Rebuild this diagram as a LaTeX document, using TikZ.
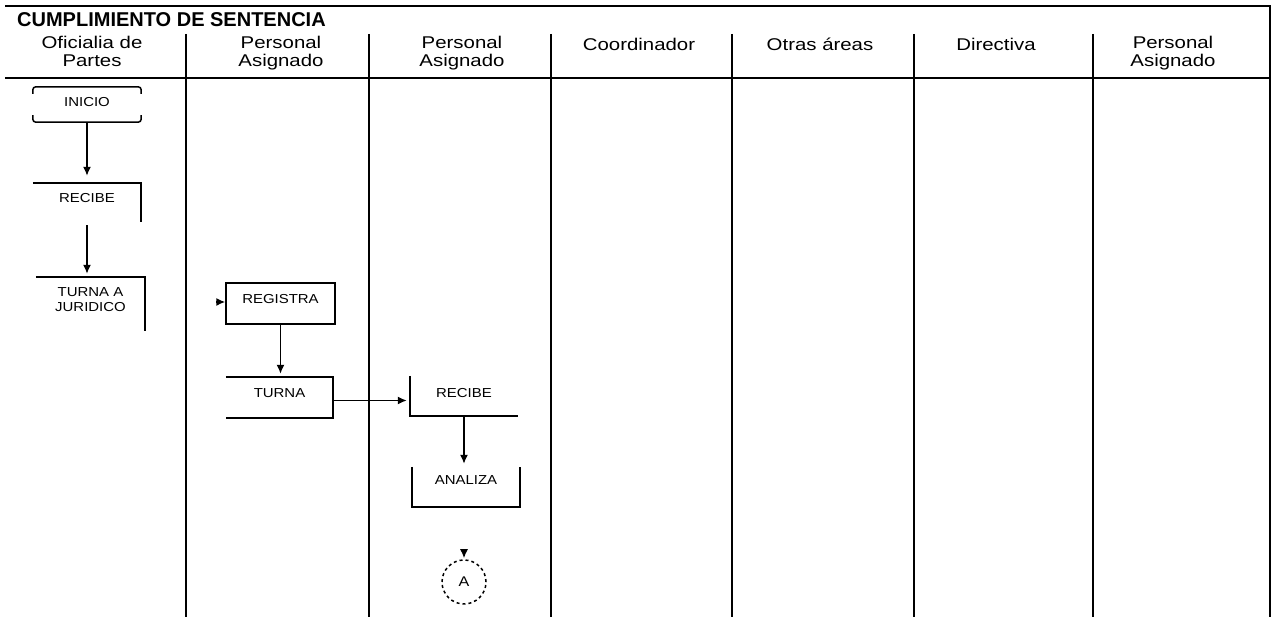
\documentclass[tikz,border=0pt]{standalone}
\usepackage{fontspec}
\setmainfont{Liberation Sans}
\newfontfamily\cabecera{Liberation Sans}[FakeStretch=1.2]
\newfontfamily\caja{Liberation Sans}[FakeStretch=1.15]
\usepackage{tikz}
\usetikzlibrary{arrows,arrows.meta}

\tikzset{
  lane/.style={font=\cabecera\fontsize{17}{18}\selectfont, align=center, anchor=base, inner sep=0pt},
  paso/.style={font=\caja\fontsize{13}{15}\selectfont, minimum width=108pt, inner sep=0pt},
  pasouno/.style={paso, text height=11pt},
  flecha/.style={-{Latex[length=9pt,width=8pt]}, line width=1.5pt, shorten >=3pt},
  linea/.style={line width=1.5pt}
}

\begin{document}
\begin{tikzpicture}[x=1pt,y=1pt]
     \useasboundingbox (0,0) rectangle (1275,617);
     \draw[line width=2pt] (5,611) -- (1270,611) -- (1270,0);
     \draw[line width=1.8pt] (5,539) -- (1270,539);
     \draw[line width=1.8pt] (186,583) -- (186,0);
     \draw[line width=1.8pt] (369,583) -- (369,0);
     \draw[line width=1.8pt] (551,583) -- (551,0);
     \draw[line width=1.8pt] (732,583) -- (732,0);
     \draw[line width=1.8pt] (914,583) -- (914,0);
     \draw[line width=1.8pt] (1093,583) -- (1093,0);
     \node[anchor=base west, inner sep=0pt, font=\bfseries\fontsize{20}{22}\selectfont] (titulo) at (17,590) {CUMPLIMIENTO DE SENTENCIA};
     \node[lane] (oficialia) at (92,550) {Oficialia de\\Partes};
     \node[lane] (personalA) at (281,550) {Personal\\Asignado};
     \node[lane] (personalB) at (462,550) {Personal\\Asignado};
     \node[lane] (coordinador) at (639,566) {Coordinador};
     \node[lane] (otras) at (820,566) {Otras áreas};
     \node[lane] (directiva) at (996,566) {Directiva};
     \node[lane] (personalC) at (1173,550) {Personal\\Asignado};

     \node[pasouno, minimum height=35pt, text depth=6pt] (inicio) at (87,512.5) {INICIO};
     \draw[linea, rounded corners=3pt] ([yshift=-7pt]inicio.north west) -- (inicio.north west) -- (inicio.north east) -- ([yshift=-7pt]inicio.north east);
     \draw[linea, rounded corners=3pt] ([yshift=7pt]inicio.south west) -- (inicio.south west) -- (inicio.south east) -- ([yshift=7pt]inicio.south east);

     \node[pasouno, minimum height=39pt, text depth=10pt] (recibeA) at (87,414.5) {RECIBE};
     \draw[linea] (recibeA.north west) -- (recibeA.north east) -- (recibeA.south east);

     \node[paso, minimum width=109pt, minimum height=46pt, align=center] (turnaA) at (90.5,317) {TURNA A\\JURIDICO};
     \draw[linea] (turnaA.north west) -- (turnaA.north east) -- ([yshift=-8pt]turnaA.south east);

     \node[pasouno, minimum width=109pt, minimum height=41pt, text depth=10pt, draw, line width=1.5pt] (registra) at (280.5,313.5) {REGISTRA};
     \coordinate (registraIn) at (216,315);

     \node[pasouno, minimum width=107pt, minimum height=41pt, text depth=10pt] (turnaB) at (279.5,219.5) {TURNA};
     \draw[linea] (turnaB.north west) -- (turnaB.north east) -- (turnaB.south east) -- (turnaB.south west);

     \node[pasouno, minimum height=40pt, text depth=7pt] (recibeB) at (464,221) {RECIBE};
     \draw[linea] (recibeB.north west) -- (recibeB.south west) -- (recibeB.south east);

     \node[pasouno, minimum height=40pt, text depth=15pt] (analiza) at (466,130) {ANALIZA};
     \draw[linea] (analiza.north west) -- (analiza.south west) -- (analiza.south east) -- (analiza.north east);

     \node[circle, draw, dashed, line width=1.5pt, minimum size=44pt, inner sep=0pt, font=\caja\fontsize{14}{16}\selectfont] (conA) at (464,35) {A};
     \coordinate (conAIn) at (464,67);

     \draw[flecha, shorten >=7pt] (inicio.south) -- (inicio.south |- recibeA.north);
     \draw[flecha, shorten <=3pt] (recibeA.south) -- (recibeA.south |- turnaA.north);
     \draw[flecha, shorten >=0pt] (registraIn) -- (registraIn -| registra.west);
     \draw[flecha] (registra.south) -- (registra.south |- turnaB.north);
     \draw[flecha] ([yshift=-3pt]turnaB.east) -- ([yshift=-3pt]turnaB.east -| recibeB.west);
     \draw[flecha] (recibeB.south) -- (recibeB.south |- analiza.north);
     \draw[flecha, shorten >=1pt] (conAIn) -- (conA.north);
\end{tikzpicture}
\end{document}
